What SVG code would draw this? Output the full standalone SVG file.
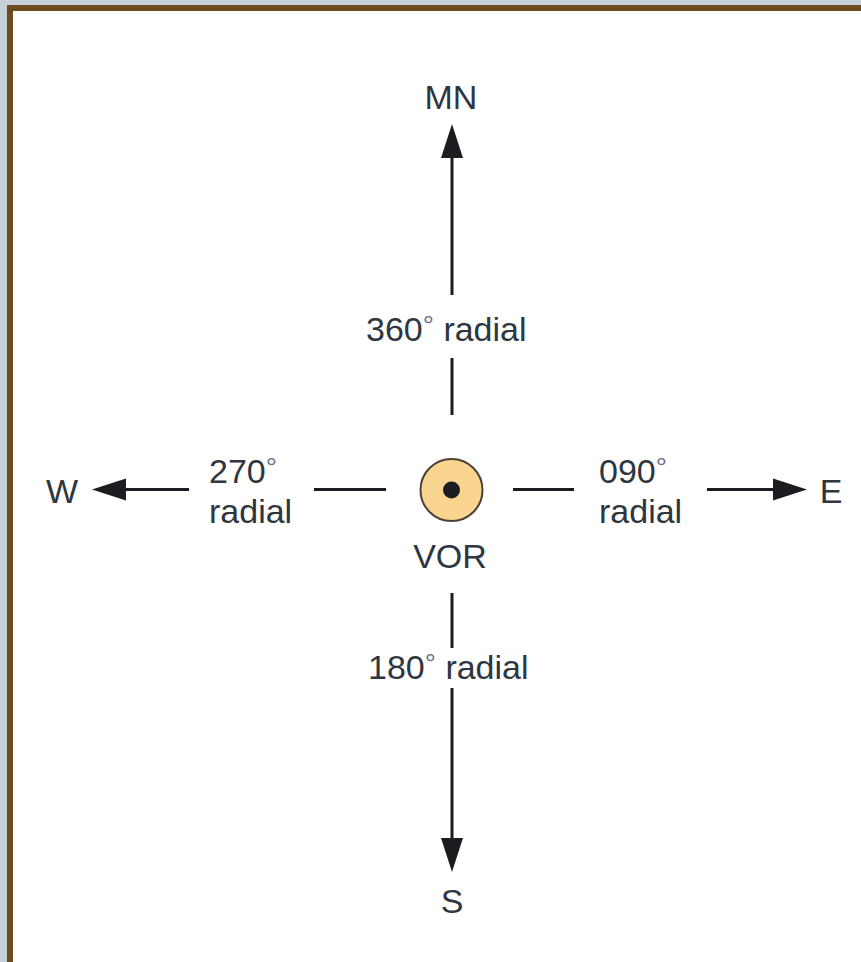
<svg xmlns="http://www.w3.org/2000/svg" width="861" height="962" viewBox="0 0 861 962">
<defs>
<style>
.t{font-family:"Liberation Sans",Arial,sans-serif;font-size:34px;fill:#2e3640}
.d{font-size:28px;fill:#6a7280}
.l{stroke:#1c1d21;stroke-width:3;fill:none}
</style>
<marker id="ah" markerUnits="userSpaceOnUse" markerWidth="36" markerHeight="24" viewBox="0 0 36 24" refX="1" refY="12" orient="auto">
<path d="M0,1 L34,12 L0,23 Z" fill="#1c1d21"/>
</marker>
</defs>
<rect x="0" y="0" width="861" height="962" fill="#c6d1d7"/>
<rect x="10" y="8" width="900" height="1000" fill="#ffffff" stroke="#6f4a1e" stroke-width="6"/>
<g id="connectors">
<line class="l" x1="452" y1="295" x2="452" y2="157" marker-end="url(#ah)"/>
<line class="l" x1="452" y1="358" x2="452" y2="415"/>
<line class="l" x1="452" y1="593" x2="452" y2="648"/>
<line class="l" x1="452" y1="688" x2="452" y2="839" marker-end="url(#ah)"/>
<line class="l" x1="189" y1="489.5" x2="125" y2="489.5" marker-end="url(#ah)"/>
<line class="l" x1="314" y1="489.5" x2="386" y2="489.5"/>
<line class="l" x1="513" y1="489.5" x2="574" y2="489.5"/>
<line class="l" x1="707" y1="489.5" x2="774" y2="489.5" marker-end="url(#ah)"/>
</g>
<g id="vor">
<circle cx="451.5" cy="490" r="31" fill="#f9d590" stroke="#4a4238" stroke-width="2"/>
<circle cx="451.5" cy="490" r="8.5" fill="#1c1d21"/>
<text class="t" x="450" y="568" text-anchor="middle">VOR</text>
</g>
<g id="mn"><text class="t" x="451" y="109" text-anchor="middle">MN</text></g>
<g id="s"><text class="t" x="452" y="913" text-anchor="middle">S</text></g>
<g id="w"><text class="t" x="62" y="503" text-anchor="middle">W</text></g>
<g id="e"><text class="t" x="831" y="503" text-anchor="middle">E</text></g>
<g id="labels">
<text class="t" x="366" y="341">360<tspan class="d" dy="-6">°</tspan><tspan dy="6"> radial</tspan></text>
<text class="t" x="368" y="679">180<tspan class="d" dy="-6">°</tspan><tspan dy="6"> radial</tspan></text>
<text class="t" x="209" y="483">270<tspan class="d" dy="-6">°</tspan></text>
<text class="t" x="209" y="523">radial</text>
<text class="t" x="599" y="483">090<tspan class="d" dy="-6">°</tspan></text>
<text class="t" x="599" y="523">radial</text>
</g>
</svg>
